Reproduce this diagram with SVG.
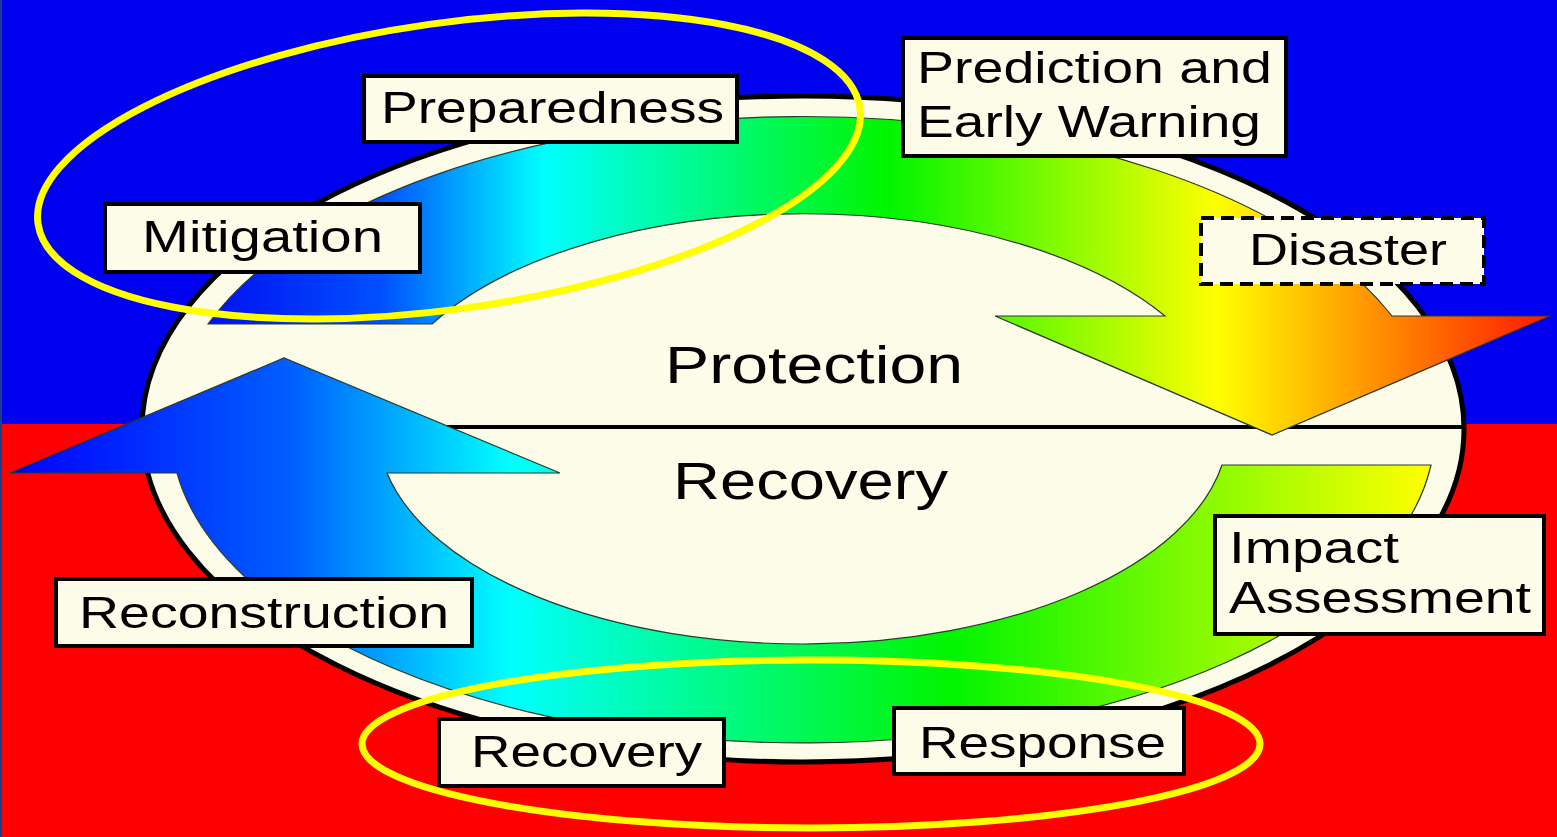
<svg xmlns="http://www.w3.org/2000/svg" width="1557" height="837" viewBox="0 0 1557 837">
<defs>
<style>
.box{fill:#fcfce8;stroke:#000;stroke-width:4}
.dash{fill:#fcfce8;stroke:#000;stroke-width:4;stroke-dasharray:13 7}
.lbl{font-family:"Liberation Sans",Arial,sans-serif;font-size:44px;fill:#000}
.big{font-family:"Liberation Sans",Arial,sans-serif;font-size:51px;fill:#000}
.hl{fill:none;stroke:#ffff00;stroke-width:7}
.arrow{stroke:#2a3a2a;stroke-width:1.2}
</style>
<linearGradient id="gTop" gradientUnits="userSpaceOnUse" x1="208" y1="0" x2="1550" y2="0">
<stop offset="0" stop-color="#0010f0"/>
<stop offset="0.13" stop-color="#0050ff"/>
<stop offset="0.25" stop-color="#00ffff"/>
<stop offset="0.506" stop-color="#00f500"/>
<stop offset="0.752" stop-color="#ffff00"/>
<stop offset="1" stop-color="#ff1800"/>
</linearGradient>
<linearGradient id="gBot" gradientUnits="userSpaceOnUse" x1="10" y1="0" x2="1430" y2="0">
<stop offset="0" stop-color="#0000ff"/>
<stop offset="0.2" stop-color="#0060ff"/>
<stop offset="0.352" stop-color="#00ffff"/>
<stop offset="0.662" stop-color="#00f500"/>
<stop offset="1" stop-color="#ffff00"/>
</linearGradient>
</defs>
<rect x="0" y="0" width="1557" height="424" fill="#0000f0"/>
<rect x="0" y="424" width="1557" height="413" fill="#ff0000"/>
<rect x="0" y="0" width="2" height="837" fill="#1c3c8c"/>
<g id="cycle">
<ellipse cx="803" cy="429" rx="661" ry="333" fill="#fcfce8" stroke="#000" stroke-width="5"/>
<line x1="143" y1="427" x2="1464" y2="427" stroke="#000" stroke-width="4"/>
</g>
<g id="connectors">
<path class="arrow" fill="url(#gTop)" d="M208,324 A632,313 0 0 1 1392,316 L1550,316 L1272,435 L995,316 L1165,316 A425,215 0 0 0 432,324 Z"/>
<path class="arrow" fill="url(#gBot)" d="M1222,465 L1431,465 A632,313 0 0 1 177,473 L10,473 L284,358 L560,473 L387,473 A425,215 0 0 0 1222,465 Z"/>
</g>
<g id="protection"><text class="big" x="665" y="383" textLength="298" lengthAdjust="spacingAndGlyphs">Protection</text></g>
<g id="recovery-center"><text class="big" x="673" y="499" textLength="275" lengthAdjust="spacingAndGlyphs">Recovery</text></g>
<g id="mitigation">
<rect class="box" x="105" y="204" width="315" height="68"/>
<text class="lbl" x="142" y="252" textLength="241" lengthAdjust="spacingAndGlyphs">Mitigation</text>
</g>
<g id="preparedness">
<rect class="box" x="364" y="76" width="373" height="66"/>
<text class="lbl" x="381" y="123" textLength="343" lengthAdjust="spacingAndGlyphs">Preparedness</text>
</g>
<g id="prediction">
<rect class="box" x="903" y="38" width="383" height="118"/>
<text class="lbl" x="917" y="83" textLength="355" lengthAdjust="spacingAndGlyphs">Prediction and</text>
<text class="lbl" x="917" y="137" textLength="344" lengthAdjust="spacingAndGlyphs">Early Warning</text>
</g>
<g id="disaster">
<rect class="dash" x="1201" y="218" width="283" height="66"/>
<text class="lbl" x="1249" y="265" textLength="198" lengthAdjust="spacingAndGlyphs">Disaster</text>
</g>
<g id="impact">
<rect class="box" x="1215" y="516" width="329" height="118"/>
<text class="lbl" x="1229" y="563" textLength="170" lengthAdjust="spacingAndGlyphs">Impact</text>
<text class="lbl" x="1229" y="613" textLength="302" lengthAdjust="spacingAndGlyphs">Assessment</text>
</g>
<g id="response">
<rect class="box" x="894" y="708" width="290" height="66"/>
<text class="lbl" x="919" y="758" textLength="247" lengthAdjust="spacingAndGlyphs">Response</text>
</g>
<g id="recovery">
<rect class="box" x="439" y="719" width="285" height="67"/>
<text class="lbl" x="471" y="767" textLength="231" lengthAdjust="spacingAndGlyphs">Recovery</text>
</g>
<g id="reconstruction">
<rect class="box" x="56" y="579" width="416" height="67"/>
<text class="lbl" x="79" y="628" textLength="370" lengthAdjust="spacingAndGlyphs">Reconstruction</text>
</g>
<g id="highlights">
<ellipse class="hl" cx="449" cy="166" rx="415" ry="143" transform="rotate(-8 449 166)"/>
<ellipse class="hl" cx="811" cy="744" rx="449" ry="84"/>
</g>
</svg>
